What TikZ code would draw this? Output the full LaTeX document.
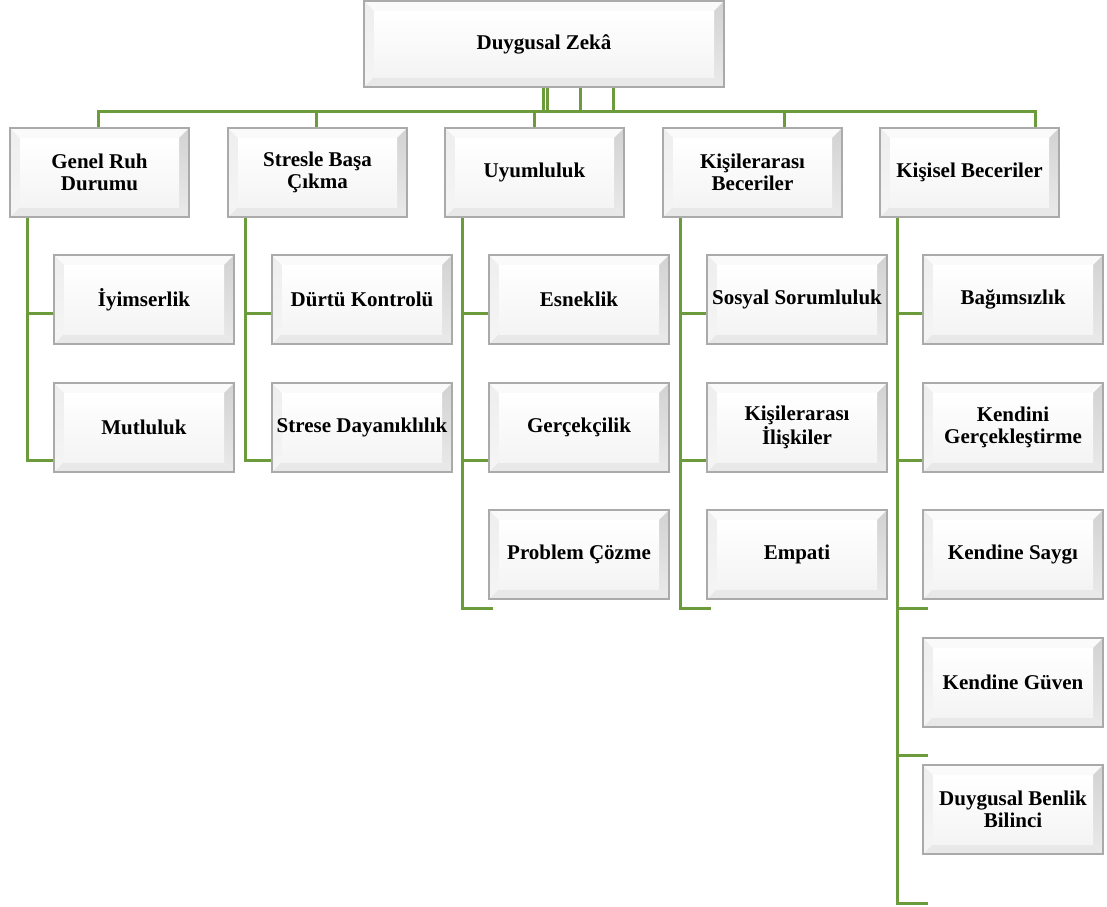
\documentclass[tikz,border=0pt]{standalone}
\usepackage{fontspec}
\setmainfont{Liberation Serif}
\usetikzlibrary{calc,backgrounds}
\definecolor{linkgreen}{RGB}{107,155,58}
\definecolor{boxedge}{RGB}{170,170,170}
\definecolor{facerighttop}{RGB}{210,210,210}
\definecolor{facerightlow}{RGB}{234,234,234}
\definecolor{faceleft}{RGB}{238,238,238}
\definecolor{facebottom}{RGB}{232,232,232}
\definecolor{facetop}{RGB}{250,250,250}
\definecolor{facelow}{RGB}{244,244,244}
\begin{document}
\begin{tikzpicture}[x=1pt,y=-1pt,
  link/.style={draw=linkgreen, line width=3pt, line join=miter},
  bevelbox/.style={rectangle, draw=boxedge, line width=1.3pt, inner sep=0pt,
    align=center, font=\fontsize{21}{22}\selectfont\bfseries,
    path picture={
      \coordinate (pp-sw) at (path picture bounding box.south west);
      \coordinate (pp-se) at (path picture bounding box.south east);
      \coordinate (pp-nw) at (path picture bounding box.north west);
      \coordinate (pp-ne) at (path picture bounding box.north east);
      \coordinate (pp-isw) at ($(pp-sw)+(10pt,10pt)$);
      \coordinate (pp-ise) at ($(pp-se)+(-10pt,10pt)$);
      \coordinate (pp-inw) at ($(pp-nw)+(10pt,-10pt)$);
      \coordinate (pp-ine) at ($(pp-ne)+(-10pt,-10pt)$);
      % bevel faces
      \fill[facetop] (pp-nw) -- (pp-ne) -- (pp-ine) -- (pp-inw) -- cycle;
      \shade[top color=faceleft, bottom color=white!96!black]
        (pp-nw) -- (pp-inw) -- (pp-isw) -- (pp-sw) -- cycle;
      \shade[top color=facerighttop, bottom color=facerightlow]
        (pp-ne) -- (pp-se) -- (pp-ise) -- (pp-ine) -- cycle;
      \fill[facebottom] (pp-sw) -- (pp-isw) -- (pp-ise) -- (pp-se) -- cycle;
      % flat face
      \shade[top color=white, bottom color=facelow] (pp-inw) rectangle (pp-ise);
    }},
  rootbox/.style={bevelbox, minimum width=360pt, minimum height=86pt},
  headbox/.style={bevelbox, minimum width=179pt, minimum height=89pt},
  itembox/.style={bevelbox, minimum width=180pt, minimum height=89pt},
]
\useasboundingbox (0,0) rectangle (1107,906);

% root
\node[rootbox] (root) at (544,44) {Duygusal Zekâ};

% second level
\node[headbox] (genel)   at (99.5,172.5)  {Genel Ruh\\Durumu};
\node[headbox] (stres)   at (317.5,172.5) {Stresle Başa\\Çıkma};
\node[headbox] (uyum)    at (534.5,172.5) {Uyumluluk};
\node[headbox] (kisiler) at (752.5,172.5) {Kişilerarası\\Beceriler};
\node[headbox] (kisisel) at (969.5,172.5) {Kişisel Beceriler};

% third level
\node[itembox] (iyim)    at (144,299.5) {İyimserlik};
\node[itembox] (mutlu)   at (144,427.5) {Mutluluk};

\node[itembox] (durtu)   at (362,299.5) {Dürtü Kontrolü};
\node[itembox] (dayan)   at (362,427.5) {Strese Dayanıklılık};

\node[itembox] (esnek)   at (579,299.5) {Esneklik};
\node[itembox] (gercek)  at (579,427.5) {Gerçekçilik};
\node[itembox] (problem) at (579,554.5) {Problem Çözme};

\node[itembox] (sosyal)  at (797,299.5) {Sosyal Sorumluluk};
\node[itembox] (iliski)  at (797,427.5) {Kişilerarası\\İlişkiler};
\node[itembox] (empati)  at (797,554.5) {Empati};

\node[itembox] (bagim)   at (1013,299.5) {Bağımsızlık};
\node[itembox] (kendini) at (1013,427.5) {Kendini\\Gerçekleştirme};
\node[itembox] (saygi)   at (1013,554.5) {Kendine Saygı};
\node[itembox] (guven)   at (1013,682.5) {Kendine Güven};
\node[itembox] (benlik)  at (1013,809.5) {Duygusal Benlik\\Bilinci};

\begin{scope}[on background layer]
  % bus below the root
  \coordinate (bus-w) at (98,111);
  \coordinate (bus-e) at (1035,111);
  \draw[link] (genel.north -| bus-w) -- (bus-w) -- (bus-e) -- (kisisel.north -| bus-e);
  \foreach \h/\tx in {stres/316, uyum/534, kisiler/784} {
    \coordinate (\h-drop) at (\tx,111);
    \draw[link] (\h-drop) -- (\h.north -| \h-drop);
  }
  % feeds from the root to the bus
  \foreach \i/\rx in {1/543, 2/547, 3/580, 4/613} {
    \coordinate (rt\i) at (\rx,111);
    \draw[link] (root.south -| rt\i) -- (rt\i);
  }
  % spines with their taps
  \foreach \h/\sx/\n in {genel/27/2, stres/245/2, uyum/462/3, kisiler/680/3, kisisel/897/5} {
    \foreach \j in {1,...,\n} {
      \pgfmathsetmacro\ty{313+147.5*(\j-1)}
      \coordinate (\h-tap\j) at (\sx,\ty);
      \coordinate (\h-end\j) at ({\sx+31},\ty);
      \draw[link] (\h-tap\j) -- (\h-end\j);
    }
    \draw[link] (\h.south -| \h-tap1) -- (\h-tap\n) -- (\h-end\n);
  }
\end{scope}
\end{tikzpicture}
\end{document}
